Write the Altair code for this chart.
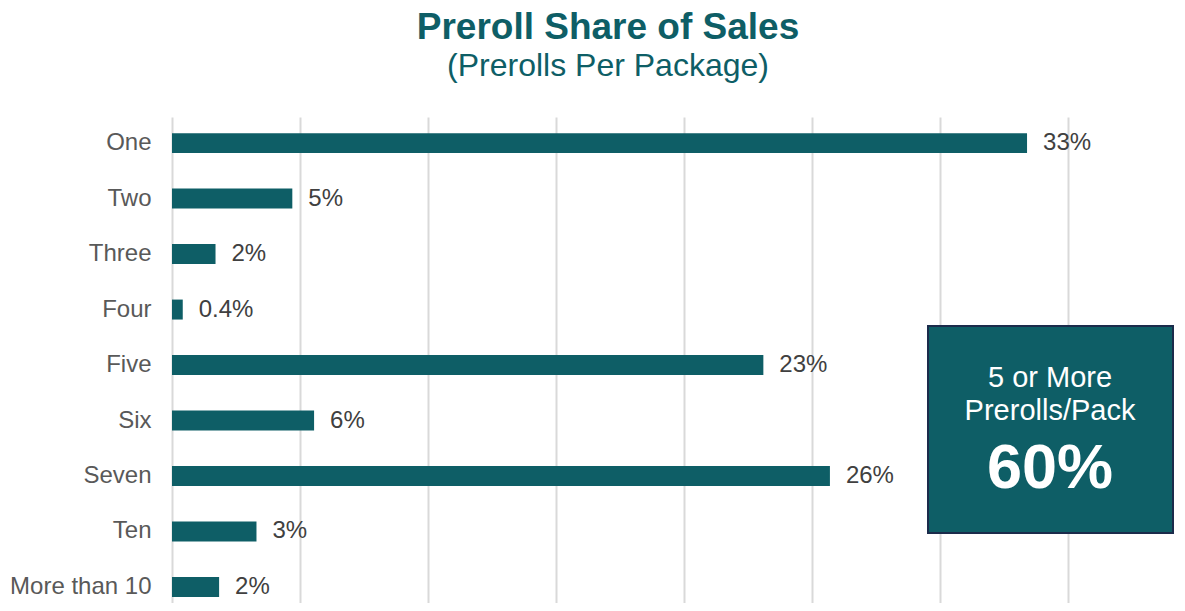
import altair as alt
import pandas as pd

# ---- data ----
categories = ["One", "Two", "Three", "Four", "Five", "Six", "Seven", "Ten", "More than 10"]
shares = [33.4, 4.7, 1.7, 0.42, 23.1, 5.55, 25.7, 3.3, 1.84]
share_labels = ["33%", "5%", "2%", "0.4%", "23%", "6%", "26%", "3%", "2%"]
x_ticks = [0, 5, 10, 15, 20, 25, 30, 35]
callout_line1 = ["5 or More"]
callout_line2 = ["Prerolls/Pack"]
callout_value = ["60%"]
title_text = "Preroll Share of Sales"
subtitle_text = "(Prerolls Per Package)"

TEAL = "#0E5E66"
NAVY = "#1B2B4B"
FONT = "Liberation Sans"

df = pd.DataFrame({"cat": categories, "share": shares, "label": share_labels})

base = alt.Chart(df).encode(
    y=alt.Y(
        "cat:N",
        sort=categories,
        title=None,
        scale=alt.Scale(paddingInner=0.64, paddingOuter=0.2, align=0.727),
        axis=alt.Axis(
            domain=False, ticks=False, tickSize=0, labelPadding=21,
            labelFontSize=24, labelColor="#595959", labelFont=FONT, grid=False,
        ),
    ),
    x=alt.X(
        "share:Q",
        title=None,
        scale=alt.Scale(domain=[0, 35], nice=False, zero=True),
        axis=alt.Axis(
            values=x_ticks, labels=False, ticks=False, domain=False,
            grid=True, gridColor="#D9D9D9", gridWidth=2,
        ),
    ),
)

bars = base.mark_bar(color=TEAL)
values = base.mark_text(
    align="left", baseline="middle", dx=16, fontSize=24, color="#404040", font=FONT
).encode(text="label:N")

box = alt.Chart(pd.DataFrame({"k": [0]})).mark_rect(
    fill=TEAL, stroke=NAVY, strokeWidth=2
).encode(x=alt.value(756), x2=alt.value(1001), y=alt.value(209), y2=alt.value(416))

t1 = alt.Chart(pd.DataFrame({"t": callout_line1})).mark_text(
    align="center", baseline="alphabetic", fontSize=29, color="white", font=FONT
).encode(text="t:N", x=alt.value(878), y=alt.value(270))

t2 = alt.Chart(pd.DataFrame({"t": callout_line2})).mark_text(
    align="center", baseline="alphabetic", fontSize=29, color="white", font=FONT
).encode(text="t:N", x=alt.value(878), y=alt.value(303))

t3 = alt.Chart(pd.DataFrame({"t": callout_value})).mark_text(
    align="center", baseline="alphabetic", fontSize=63, fontWeight="bold", color="white", font=FONT
).encode(text="t:N", x=alt.value(878), y=alt.value(371))

chart = alt.layer(bars, values, box, t1, t2, t3).properties(
    width=896,
    height=486,
    title=alt.TitleParams(
        text=title_text,
        subtitle=subtitle_text,
        anchor="middle",
        frame="group",
        font=FONT,
        fontSize=37,
        fontWeight="bold",
        color=TEAL,
        subtitleFont=FONT,
        subtitleFontSize=32,
        subtitleColor=TEAL,
        subtitlePadding=4,
        offset=34,
        dx=-12,
    ),
    autosize=alt.AutoSizeParams(type="none"),
    padding={"left": 164, "top": 109, "right": 108, "bottom": 0},
).configure_view(stroke=None)

chart.save("out.html", embed_options={"renderer": "svg", "actions": False})
